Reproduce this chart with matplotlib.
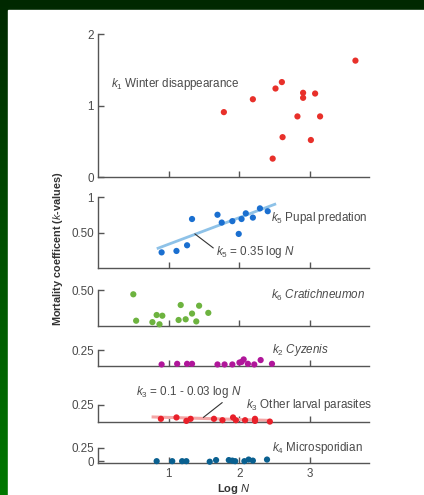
import numpy as np
import matplotlib
matplotlib.use("Agg")
import matplotlib.pyplot as plt
from matplotlib.colors import LinearSegmentedColormap

plt.rcParams['font.family'] = ['Liberation Sans', 'DejaVu Sans']
plt.rcParams['mathtext.fontset'] = 'custom'
plt.rcParams['mathtext.rm'] = 'Liberation Sans'
plt.rcParams['mathtext.it'] = 'Liberation Sans:italic'
plt.rcParams['mathtext.bf'] = 'Liberation Sans:bold'

# data (x = log N, y = k-value)
k1_x = [1.78, 2.19, 2.51, 2.60, 2.90, 2.90, 3.07, 2.82, 3.14, 2.61, 3.01, 2.47, 3.64]
k1_y = [0.91, 1.09, 1.24, 1.33, 1.18, 1.11, 1.17, 0.85, 0.85, 0.56, 0.52, 0.26, 1.63]

k5_x = [0.90, 1.11, 1.26, 1.33, 1.69, 1.75, 1.90, 1.99, 2.03, 2.09, 2.19, 2.29, 2.40]
k5_y = [0.22, 0.24, 0.32, 0.69, 0.75, 0.64, 0.66, 0.48, 0.69, 0.77, 0.71, 0.84, 0.80]
k5_fit = [0.375, -0.04]      # slope, intercept of drawn line
k5_fit_range = [0.85, 2.50]

k6_x = [0.50, 0.54, 0.77, 0.83, 0.87, 0.91, 1.14, 1.17, 1.24, 1.33, 1.39, 1.43, 1.56]
k6_y = [0.44, 0.07, 0.05, 0.15, 0.02, 0.14, 0.08, 0.29, 0.09, 0.17, 0.06, 0.28, 0.18]

k2_x = [0.90, 1.12, 1.26, 1.33, 1.69, 1.79, 1.90, 2.00, 2.06, 2.03, 2.12, 2.21, 2.30, 2.46]
k2_y = [0.02, 0.03, 0.03, 0.03, 0.02, 0.02, 0.02, 0.05, 0.10, 0.06, 0.03, 0.02, 0.09, 0.03]

k3_x = [0.89, 1.11, 1.25, 1.31, 1.64, 1.76, 1.91, 1.95, 2.08, 2.22, 2.22, 2.43]
k3_y = [0.05, 0.07, 0.02, 0.05, 0.05, 0.03, 0.07, 0.03, 0.03, 0.05, 0.02, 0.01]
k3_fit = [-0.03, 0.10]
k3_fit_range = [0.78, 2.40]

k4_x = [0.83, 1.05, 1.19, 1.25, 1.58, 1.67, 1.85, 1.90, 1.94, 2.07, 2.13, 2.19, 2.39]
k4_y = [0.00, 0.00, 0.00, 0.00, -0.01, 0.02, 0.02, 0.01, 0.00, 0.00, 0.03, 0.01, 0.03]

ink = '#4a4a4a'
fs = 8.4
fig = plt.figure(figsize=(4.24, 4.95), dpi=100)

# green slide background + white page
bg = fig.add_axes([0, 0, 1, 1])
grad = np.linspace(0, 1, 256).reshape(-1, 1)
cmap = LinearSegmentedColormap.from_list('g', ['#002800', '#007800'])
bg.imshow(grad, aspect='auto', cmap=cmap, extent=[0, 1, 0, 1])
bg.add_patch(plt.Rectangle((8 / 424, 0), 1, 1 - 10 / 495, color='white'))
bg.set_xlim(0, 1)
bg.set_ylim(0, 1)
bg.axis('off')

L, W = 0.231, 0.639
xmax = 3.83


def panel(bottom, height, ylim, ticks, ticklabels):
    ax = fig.add_axes([L, bottom, W, height])
    ax.set_xlim(0, xmax)
    ax.set_ylim(*ylim)
    for s in ['top', 'right']:
        ax.spines[s].set_visible(False)
    for s in ['left', 'bottom']:
        ax.spines[s].set_color('#555555')
        ax.spines[s].set_linewidth(1.0)
    ax.spines['left'].set_bounds(ylim[0], ticks[-1])
    ax.set_xticks([1, 2, 3])
    ax.set_xticklabels([])
    ax.set_yticks(ticks)
    ax.set_yticklabels(ticklabels)
    ax.tick_params(direction='in', length=4, width=1, color='#555555',
                   labelcolor=ink, labelsize=fs, pad=3)
    ax.patch.set_alpha(0)
    return ax


msize = 20

ax1 = panel(0.642, 0.289, (0, 2), [0, 1, 2], ['0', '1', '2'])
ax1.scatter(k1_x, k1_y, s=msize, color='#e8302a', edgecolors='none', zorder=3)
ax1.text(0.19, 1.30, '$k_1$ Winter disappearance', fontsize=fs, color=ink, va='center')

ax2 = panel(0.4586, 0.1434, (0, 1), [0.5, 1], ['0.50', '1'])
fx = np.array(k5_fit_range)
ax2.plot(fx, k5_fit[0] * fx + k5_fit[1], color='#8ec2e8', lw=2, zorder=2)
ax2.scatter(k5_x, k5_y, s=msize, color='#1a6fd0', edgecolors='none', zorder=3)
ax2.text(2.45, 0.71, '$k_5$ Pupal predation', fontsize=fs, color=ink, va='center')
ax2.annotate('$k_5$ = 0.35 log $N$', xy=(1.37, 0.48), xytext=(1.67, 0.23),
             fontsize=fs, color=ink, va='center',
             arrowprops=dict(arrowstyle='-', color='#333333', lw=0.8,
                             shrinkA=0, shrinkB=0, relpos=(0, 0.6)))

ax3 = panel(0.342, 0.0721, (0, 0.5), [0.5], ['0.50'])
ax3.scatter(k6_x, k6_y, s=msize, color='#6db33f', edgecolors='none', zorder=3, clip_on=False)
ax3.text(2.45, 0.43, '$k_6$ $\\it{Cratichneumon}$', fontsize=fs, color=ink, va='center')

ax4 = panel(0.2612, 0.0317, (0, 0.25), [0.25], ['0.25'])
ax4.scatter(k2_x, k2_y, s=msize, color='#b0169a', edgecolors='none', zorder=3, clip_on=False)
ax4.text(2.46, 0.25, '$k_2$ $\\it{Cyzenis}$', fontsize=fs, color=ink, va='center')

ax5 = panel(0.1469, 0.035, (0, 0.25), [0.25], ['0.25'])
fx = np.array(k3_fit_range)
ax5.plot(fx, k3_fit[0] * fx + k3_fit[1], color='#f4a6a6', lw=2.2, zorder=2)
ax5.scatter(k3_x, k3_y, s=msize, color='#e8202a', edgecolors='none', zorder=3, clip_on=False)
ax5.text(2.09, 0.25, '$k_3$ Other larval parasites', fontsize=fs, color=ink, va='center')
ax5.annotate('$k_3$ = 0.1 - 0.03 log $N$', xy=(1.49, 0.07), xytext=(0.54, 0.44),
             fontsize=fs, color=ink, va='center', annotation_clip=False,
             arrowprops=dict(arrowstyle='-', color='#333333', lw=0.8,
                             shrinkA=0, shrinkB=0, relpos=(0.85, 0)))

ax6 = panel(0.064, 0.0315, (-0.04, 0.25), [0, 0.25], ['0', '0.25'])
ax6.scatter(k4_x, k4_y, s=msize, color='#0a6090', edgecolors='none', zorder=3, clip_on=False)
ax6.text(2.46, 0.25, '$k_4$ Microsporidian', fontsize=fs, color=ink, va='center')
ax6.set_xticklabels(['1', '2', '3'])
ax6.tick_params(axis='x', pad=3.5)

fig.text(L + W / 2, 1 - 489.5 / 495, 'Log $\\mathbf{\\it{N}}$', fontsize=8,
         fontweight='bold', color='#333333', ha='center', va='center')
fig.text(0.137, 0.497, 'Mortality coefficent ($\\mathbf{\\it{k}}$-values)', rotation=90,
         fontsize=7.8, fontweight='bold', color='#333333', ha='center', va='center')

fig.savefig('out.png', dpi=100)
